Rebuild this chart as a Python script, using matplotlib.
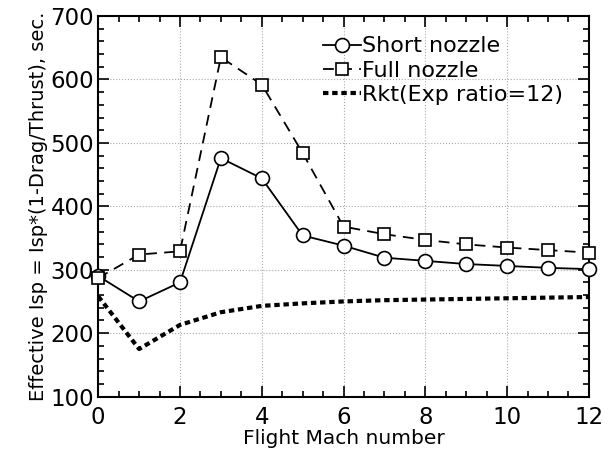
import matplotlib
matplotlib.use("Agg")
import matplotlib.pyplot as plt
from matplotlib.ticker import MultipleLocator

plt.rcParams['font.family'] = ['DejaVu Sans']

mach = [0, 1, 2, 3, 4, 5, 6, 7, 8, 9, 10, 11, 12]
short_nozzle = [290, 250, 280, 476, 444, 354, 338, 319, 314, 309, 306, 303, 301]
full_nozzle = [287, 324, 329, 635, 592, 484, 368, 356, 347, 340, 335, 331, 327]
rkt = [258, 175, 213, 233, 243, 247, 250, 252, 253, 254, 255, 256, 257]

fig = plt.figure(figsize=(6.14, 4.59), dpi=100)
ax = fig.add_axes([0.160, 0.136, 0.799, 0.829])

ax.plot(mach, short_nozzle, '-', color='black', lw=1.3, marker='o', ms=10,
        mfc='white', mec='black', mew=1.2, label='Short nozzle', zorder=3, clip_on=False)
ax.plot(mach, full_nozzle, color='black', lw=1.3, ls=(0, (6, 4)), marker='s', ms=9,
        mfc='white', mec='black', mew=1.2, label='Full nozzle', zorder=4, clip_on=False)
ax.plot(mach, rkt, color='black', lw=3, ls=(0, (1.3, 0.9)),
        label='Rkt(Exp ratio=12)', zorder=2)

ax.set_xlim(0, 12)
ax.set_ylim(100, 700)
ax.xaxis.set_major_locator(MultipleLocator(2))
ax.xaxis.set_minor_locator(MultipleLocator(0.5))
ax.yaxis.set_major_locator(MultipleLocator(100))
ax.yaxis.set_minor_locator(MultipleLocator(20))
ax.tick_params(which='both', direction='in', top=True, right=True, width=1.2)
ax.tick_params(which='major', length=8, labelsize=16.5)
ax.tick_params(axis='y', which='major', pad=3)
ax.tick_params(axis='x', which='major', pad=7)
ax.tick_params(which='minor', length=4)
for s in ax.spines.values():
    s.set_linewidth(1.5)
ax.grid(True, which='major', ls=':', color='#aaaaaa', lw=0.8)

ax.set_xlabel('Flight Mach number', fontsize=14.5, labelpad=0)
ax.set_ylabel('Effective Isp = Isp*(1-Drag/Thrust), sec.', fontsize=14, labelpad=2)

leg = ax.legend(loc='upper right', frameon=False, fontsize=16, handlelength=1.7,
                handletextpad=0.05, labelspacing=0.2, borderaxespad=0.0,
                bbox_to_anchor=(0.965, 0.97))

fig.savefig('out.png', dpi=100)
